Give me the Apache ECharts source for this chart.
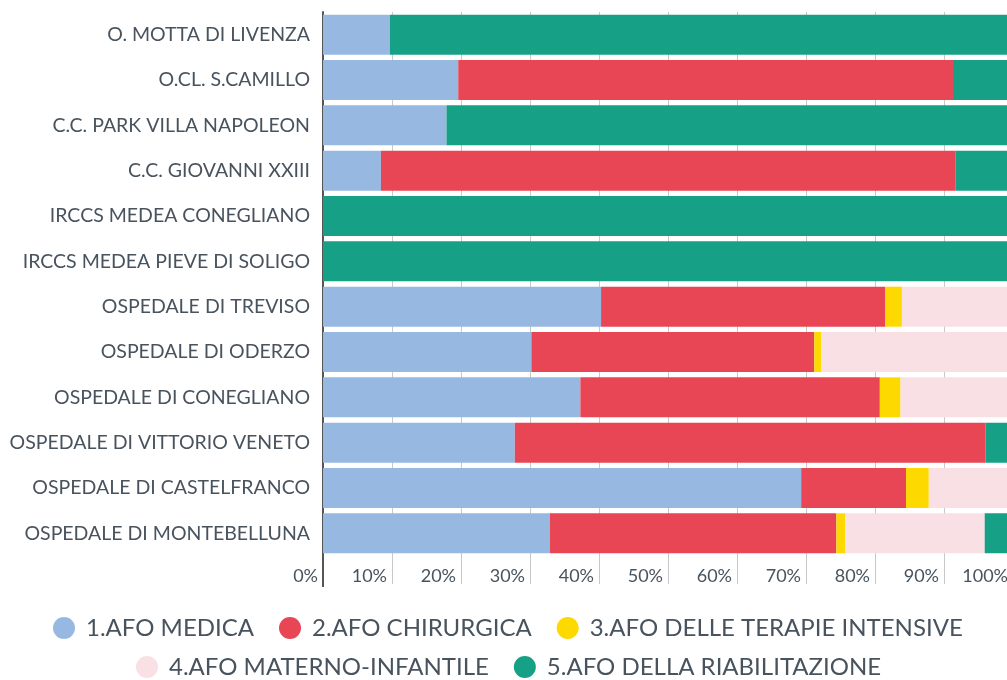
<!DOCTYPE html>
<html>
<head>
<meta charset="utf-8">
<script src="https://cdn.jsdelivr.net/npm/echarts@6/dist/echarts.min.js"></script>
<style>
    html, body { margin: 0; padding: 0; background: #fff; }
    #chart { width: 1007px; height: 680px; }
</style>
</head>
<body>
<div id="chart"></div>
<script>
// categories, top to bottom
const categories = [
    'O. MOTTA DI LIVENZA',
    'O.CL. S.CAMILLO',
    'C.C. PARK VILLA NAPOLEON',
    'C.C. GIOVANNI XXIII',
    'IRCCS MEDEA CONEGLIANO',
    'IRCCS MEDEA PIEVE DI SOLIGO',
    'OSPEDALE DI TREVISO',
    'OSPEDALE DI ODERZO',
    'OSPEDALE DI CONEGLIANO',
    'OSPEDALE DI VITTORIO VENETO',
    'OSPEDALE DI CASTELFRANCO',
    'OSPEDALE DI MONTEBELLUNA'
]
const seriesNames = [
    '1.AFO MEDICA',
    '2.AFO CHIRURGICA',
    '3.AFO DELLE TERAPIE INTENSIVE',
    '4.AFO MATERNO-INFANTILE',
    '5.AFO DELLA RIABILITAZIONE'
]
// share in percent, one value per category
const afoMedica       = [9.7, 19.6, 17.9, 8.4, 0, 0, 40.3, 30.2, 37.3, 27.8, 69.3, 32.9]
const afoChirurgica   = [0, 71.7, 0, 83.3, 0, 0, 41.2, 41.0, 43.4, 68.2, 15.2, 41.5]
const afoIntensive    = [0, 0, 0, 0, 0, 0, 2.4, 1.0, 3.0, 0, 3.3, 1.3]
const afoMaterno      = [0, 0, 0, 0, 0, 0, 16.1, 27.8, 16.3, 0, 12.2, 20.2]
const afoRiabilitaz   = [90.3, 8.7, 82.1, 8.3, 100, 100, 0, 0, 0, 4.0, 0, 4.1]
const seriesValues = [afoMedica, afoChirurgica, afoIntensive, afoMaterno, afoRiabilitaz]
const colors = ['#97b9e1', '#e84654', '#fdd900', '#f9e0e5', '#16a085']

const textColor = '#48535e'
const chart = echarts.init(document.getElementById('chart'))

const legendText = { color: textColor, fontSize: 24, fontFamily: 'Lato', padding: [0, 0, 0, 6] }

chart.setOption({
    color: colors,
    animation: false,
    grid: {
        left: 323,
        right: -6,
        top: 12,
        bottom: 124,
        outerBoundsMode: 'none'
    },
    legend: [
        {
            data: seriesNames.slice(0, 3),
            left: 48,
            top: 611,
            icon: 'circle',
            itemWidth: 22,
            itemHeight: 22,
            itemGap: 25,
            textStyle: legendText
        },
        {
            data: seriesNames.slice(3),
            left: 131,
            top: 650,
            icon: 'circle',
            itemWidth: 22,
            itemHeight: 22,
            itemGap: 25,
            textStyle: legendText
        }
    ],
    xAxis: [
        {
            type: 'value',
            min: 0,
            max: 100,
            interval: 10,
            axisLine: { show: false },
            axisTick: { show: true, length: 28, lineStyle: { color: '#c8c8c8' } },
            splitLine: { show: true, lineStyle: { color: '#c8c8c8' } },
            axisLabel: {
                formatter: '{value}%',
                align: 'right',
                padding: [0, 5, 0, 0],
                margin: 11,
                color: textColor,
                fontSize: 18,
                fontFamily: 'Lato'
            }
        },
        {
            // only used to carry the left axis line down past the labels
            type: 'value',
            min: 0,
            max: 100,
            interval: 100,
            position: 'bottom',
            axisLine: { show: false },
            axisTick: { show: true, length: 31, lineStyle: { color: '#555', width: 2 } },
            splitLine: { show: false },
            axisLabel: { show: false }
        }
    ],
    yAxis: {
        type: 'category',
        inverse: true,
        data: categories,
        axisLine: { show: true, lineStyle: { color: '#555', width: 2 } },
        axisTick: { show: false },
        axisLabel: {
            color: textColor,
            fontSize: 19.5,
            fontFamily: 'Lato',
            margin: 13
        }
    },
    series: seriesNames.map((name, i) => ({
        name: name,
        type: 'bar',
        stack: 'total',
        barWidth: 40,
        data: seriesValues[i]
    }))
})
</script>
</body>
</html>
